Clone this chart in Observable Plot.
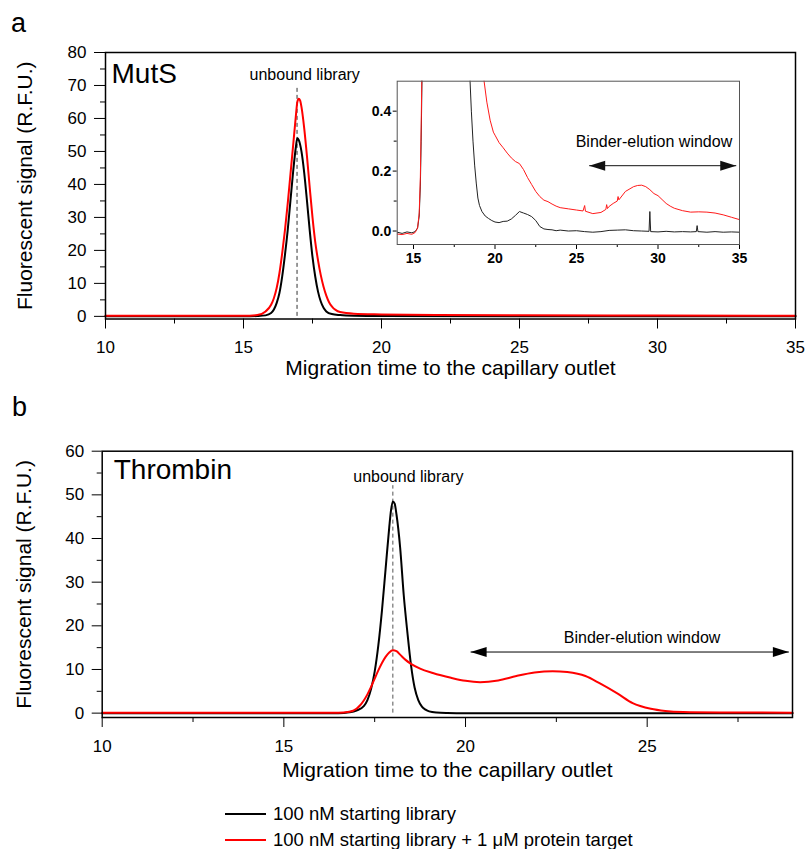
<!DOCTYPE html>
<html><head><meta charset="utf-8">
<script src="https://cdn.jsdelivr.net/npm/d3@7"></script>
<script src="https://cdn.jsdelivr.net/npm/@observablehq/plot@0.6"></script>
<style>
body{margin:0;background:#fff;font-family:"Liberation Sans",Arial,Helvetica,sans-serif;}
#fig{position:relative;width:805px;height:849px;overflow:hidden;background:#fff;}
.letter{font-size:27px;line-height:27px;color:#000;}
.legend{font-size:18.5px;color:#000;}
.legend .row{height:26px;line-height:26px;white-space:nowrap;}
.legend .sw{display:inline-block;width:41px;height:2px;vertical-align:middle;margin-right:7px;position:relative;top:-1px;}
</style></head><body><div id="fig"></div>
<script>
// ---------- DATA ----------
// Panel a (MutS): [migration time, signal]
const mutsLibrary = [[10,0],[15.0,0],[15.5,0.1],[15.8,0.3],[16.0,1.0],[16.2,4],[16.3,7],[16.4,12],[16.5,18.5],[16.6,26],[16.7,35],[16.8,44],[16.9,51.5],[16.95,54],[17.0,53.5],[17.1,50],[17.2,43.5],[17.3,35],[17.4,26],[17.5,18],[17.6,12],[17.7,7.5],[17.8,4.5],[17.9,2.6],[18.0,1.5],[18.2,0.7],[18.5,0.4],[19,0.2],[20,0.1],[25,0.05],[35,0.03]];
const mutsTarget = [[10,0.2],[15.0,0.2],[15.5,0.4],[15.8,1.5],[16.0,3.5],[16.1,5.5],[16.2,8.5],[16.3,13],[16.4,19],[16.5,26],[16.6,34],[16.7,43],[16.8,52],[16.9,61],[16.95,65],[17.0,66],[17.05,65.5],[17.1,63.5],[17.2,57],[17.3,48.5],[17.4,39],[17.5,30],[17.6,22.5],[17.7,17],[17.8,12.5],[17.9,9],[18.0,6.3],[18.1,4.3],[18.2,3.0],[18.5,1.3],[19,0.8],[20,0.6],[22,0.4],[25,0.3],[30,0.25],[35,0.2]];
// Inset of panel a (zoomed baseline)
const insetLibrary = [[14.0,-0.004],[14.3,-0.008],[14.6,-0.003],[14.9,-0.006],[15.1,-0.002],[15.25,0.01],[15.35,0.05],[15.42,0.15],[15.47,0.3],[15.52,0.5],[15.56,0.7],[17.0,1.0],[18.4,0.7],[18.47,0.5],[18.55,0.4],[18.65,0.3],[18.75,0.22],[18.85,0.16],[18.95,0.11],[19.05,0.085],[19.2,0.065],[19.4,0.05],[19.6,0.042],[19.8,0.035],[20.0,0.03],[20.25,0.028],[20.5,0.032],[20.75,0.033],[21.0,0.04],[21.25,0.052],[21.5,0.065],[21.75,0.06],[22.0,0.055],[22.25,0.048],[22.5,0.035],[22.75,0.015],[23.0,0.007],[23.25,0.005],[23.5,0.004],[23.75,0.001],[24.0,0.003],[24.5,0.0],[25.0,0.001],[25.5,-0.002],[26.0,-0.004],[26.5,-0.002],[27.0,0.002],[27.5,0.003],[28.0,0.004],[28.5,0.001],[29.0,0.0],[29.45,-0.001],[29.5,0.065],[29.55,-0.002],[30.0,-0.003],[30.5,-0.001],[31.0,-0.003],[31.5,-0.002],[32.0,-0.003],[32.35,-0.002],[32.4,0.018],[32.45,-0.002],[33.0,-0.004],[33.5,-0.002],[34.0,-0.004],[34.5,-0.003],[35.0,-0.004]];
const insetTarget = [[14.0,-0.01],[14.3,-0.012],[14.6,-0.008],[14.9,-0.011],[15.1,-0.005],[15.25,0.01],[15.35,0.06],[15.42,0.18],[15.47,0.35],[15.52,0.55],[15.56,0.75],[17.0,1.0],[19.2,0.7],[19.33,0.5],[19.5,0.43],[19.7,0.37],[19.9,0.33],[20.0,0.32],[20.25,0.295],[20.5,0.278],[20.75,0.26],[21.0,0.244],[21.25,0.232],[21.5,0.225],[21.75,0.205],[22.0,0.178],[22.25,0.155],[22.5,0.132],[22.75,0.115],[23.0,0.103],[23.25,0.098],[23.5,0.09],[23.75,0.083],[24.0,0.078],[24.5,0.074],[25.0,0.07],[25.4,0.067],[25.5,0.085],[25.55,0.066],[26.0,0.058],[26.5,0.062],[26.8,0.072],[26.85,0.088],[26.9,0.075],[27.0,0.082],[27.25,0.092],[27.5,0.1],[27.55,0.115],[27.6,0.104],[28.0,0.132],[28.5,0.148],[28.75,0.152],[29.0,0.153],[29.25,0.148],[29.5,0.138],[29.75,0.125],[30.0,0.118],[30.25,0.105],[30.5,0.092],[30.75,0.083],[31.0,0.076],[31.5,0.068],[32.0,0.063],[32.5,0.064],[33.0,0.063],[33.5,0.06],[34.0,0.054],[34.5,0.046],[35.0,0.038]];
// Panel b (Thrombin)
const thrombinLibrary = [[10,0],[16.5,0],[16.8,0.2],[17.0,0.6],[17.2,1.6],[17.3,3.0],[17.4,5.5],[17.5,9.5],[17.6,15.5],[17.7,23.5],[17.8,33],[17.9,42.5],[17.95,46.5],[18.0,48.5],[18.05,48],[18.1,45.5],[18.2,38],[18.3,27],[18.4,18.5],[18.5,11],[18.6,5.8],[18.7,3.0],[18.8,1.5],[18.9,0.8],[19.0,0.4],[19.2,0.15],[19.5,0.05],[20,0],[29,0]];
const thrombinTarget = [[10,0.1],[16.5,0.1],[16.8,0.3],[17.0,1.0],[17.1,1.8],[17.2,2.9],[17.3,4.3],[17.4,6],[17.5,7.9],[17.6,9.8],[17.7,11.5],[17.8,12.9],[17.9,13.9],[18.0,14.4],[18.1,14.2],[18.2,13.4],[18.35,12.2],[18.5,11.3],[18.75,10.2],[19.1,9.2],[19.6,8.1],[20.0,7.4],[20.4,7.1],[20.9,7.5],[21.4,8.5],[21.9,9.3],[22.4,9.6],[22.8,9.4],[23.3,8.5],[23.7,6.8],[24.2,4.4],[24.6,2.3],[25.1,1.0],[25.5,0.5],[26.0,0.25],[27,0.15],[29,0.1]];

// Ticks
const aTicksX = [10,15,20,25,30,35], aMinorX = [12.5,17.5,22.5,27.5,32.5];
const aTicksY = [0,10,20,30,40,50,60,70,80], aMinorY = [5,15,25,35,45,55,65,75];
const bTicksX = [10,15,20,25], bMinorX = [12.5,17.5,22.5,27.5];
const bTicksY = [0,10,20,30,40,50,60], bMinorY = [5,15,25,35,45,55];
const insetTicksX = [15,20,25,30,35], insetMinorX = [17.5,22.5,27.5,32.5];
const insetTicksY = [0,0.2,0.4], insetMinorY = [0.1,0.3];

// Annotations (data coordinates)
const aPeak = [{t:16.94, top:70}], aPeakLabel = [{t:15.22, v:73.3, label:"unbound library"}];
const bPeak = [{t:18.0, top:52.1}], bPeakLabel = [{t:16.91, v:54.2, label:"unbound library"}];
const insetWindow = [{t1:25.78, t2:34.8, v:0.218}], insetWindowLabel = [{t:29.75, v:0.299, label:"Binder-elution window"}];
const bWindow = [{t1:20.14, t2:28.9, v:14.0}], bWindowLabel = [{t:24.86, v:17.3, label:"Binder-elution window"}];
const xLabel = "Migration time to the capillary outlet";
const yLabel = "Fluorescent signal (R.F.U.)";
const legendLabels = ["100 nM starting library", "100 nM starting library + 1 \u03bcM protein target"];
const legendColors = ["#000000", "#ff0000"];

// ---------- DRAW ----------
const FONT = '"Liberation Sans", Arial, Helvetica, sans-serif';
const rows = a => a.map(([t, v]) => ({t, v}));
const headRight = {draw(ctx){ ctx.moveTo(0,0); ctx.lineTo(-16,-5); ctx.lineTo(-16,5); ctx.closePath(); }};
const arrowMarks = (win, color) => [
  Plot.link(win, {x1:"t1", x2:"t2", y1:"v", y2:"v", stroke: color, strokeWidth: 1}),
  Plot.dot(win, {x:"t2", y:"v", symbol: headRight, fill: color, stroke: null, r: 5}),
  Plot.dot(win, {x:"t1", y:"v", symbol: headRight, rotate: 180, fill: color, stroke: null, r: 5})
];
const fig = document.getElementById("fig");
function place(el, left, top){ el.style.position="absolute"; el.style.left=left+"px"; el.style.top=top+"px"; fig.appendChild(el); }

// Panel a
const plotA = Plot.plot({
  width: 805, height: 385,
  marginLeft: 105, marginRight: 10, marginTop: 52, marginBottom: 66.5,
  style: {fontFamily: FONT, fontSize: "17px", color: "#000", background: "transparent", overflow: "visible"},
  x: {domain: [10, 35]},
  y: {domain: [-0.8, 80]},
  marks: [
    Plot.axisX(aTicksX, {tickSize: 10, tickPadding: 12, label: null, fontSize: 17}),
    Plot.axisX(aMinorX, {tickSize: 5, tickFormat: () => "", label: null}),
    Plot.axisY(aTicksY, {tickSize: 11, tickPadding: 8, label: null, fontSize: 17}),
    Plot.axisY(aMinorY, {tickSize: 5, tickFormat: () => "", label: null}),
    Plot.ruleX(aPeak, {x: "t", y1: 0, y2: "top", stroke: "#333", strokeDasharray: "4,3", strokeWidth: 1}),
    Plot.line(rows(mutsLibrary), {x: "t", y: "v", stroke: "#000", strokeWidth: 2, curve: "monotone-x"}),
    Plot.line(rows(mutsTarget), {x: "t", y: "v", stroke: "#ff0000", strokeWidth: 2, curve: "monotone-x"}),
    Plot.frame({stroke: "#000", strokeWidth: 1.5}),
    Plot.text(["MutS"], {frameAnchor: "top-left", textAnchor: "start", lineAnchor: "top", dx: 6, dy: 11, fontSize: 28}),
    Plot.text(aPeakLabel, {x: "t", y: "v", text: "label", textAnchor: "start", fontSize: 16}),
    Plot.text([yLabel], {frameAnchor: "left", textAnchor: "middle", lineAnchor: "middle", rotate: -90, dx: -80, fontSize: 21}),
    Plot.text([xLabel], {frameAnchor: "bottom", textAnchor: "middle", lineAnchor: "middle", dy: 49, fontSize: 21})
  ]
});
place(plotA, 0, 0);

// Inset
const plotInset = Plot.plot({
  width: 390, height: 200,
  marginLeft: 36.7, marginRight: 11, marginTop: 10.7, marginBottom: 26,
  style: {fontFamily: FONT, fontSize: "14px", fontWeight: "bold", color: "#000", background: "transparent", overflow: "visible"},
  x: {domain: [14, 35]},
  y: {domain: [-0.045, 0.5]},
  marks: [
    Plot.axisX(insetTicksX, {tickSize: 5, tickPadding: 4, label: null, fontSize: 14}),
    Plot.axisX(insetMinorX, {tickSize: 3, tickFormat: () => "", label: null}),
    Plot.axisY(insetTicksY, {tickSize: 4, tickPadding: 2, tickFormat: d3.format(".1f"), label: null, fontSize: 14}),
    Plot.axisY(insetMinorY, {tickSize: 3, tickFormat: () => "", label: null}),
    Plot.line(rows(insetLibrary), {x: "t", y: "v", stroke: "#222", strokeWidth: 1, clip: true}),
    Plot.line(rows(insetTarget), {x: "t", y: "v", stroke: "#ff1a1a", strokeWidth: 1, clip: true}),
    ...arrowMarks(insetWindow, "#111"),
    Plot.text(insetWindowLabel, {x: "t", y: "v", text: "label", fontSize: 16, fontWeight: "normal"}),
    Plot.frame({stroke: "#555", strokeWidth: 1})
  ]
});
place(plotInset, 360, 70);

// Panel b
const plotB = Plot.plot({
  width: 805, height: 400,
  marginLeft: 101.7, marginRight: 13, marginTop: 70.7, marginBottom: 63,
  style: {fontFamily: FONT, fontSize: "17px", color: "#000", background: "transparent", overflow: "visible"},
  x: {domain: [10, 29]},
  y: {domain: [-1, 60]},
  marks: [
    Plot.axisX(bTicksX, {tickSize: 10, tickPadding: 12, label: null, fontSize: 17}),
    Plot.axisX(bMinorX, {tickSize: 5, tickFormat: () => "", label: null}),
    Plot.axisY(bTicksY, {tickSize: 10, tickPadding: 8, label: null, fontSize: 17}),
    Plot.axisY(bMinorY, {tickSize: 5, tickFormat: () => "", label: null}),
    Plot.ruleX(bPeak, {x: "t", y1: 0, y2: "top", stroke: "#555", strokeDasharray: "4,3", strokeWidth: 1}),
    Plot.line(rows(thrombinLibrary), {x: "t", y: "v", stroke: "#000", strokeWidth: 2, curve: "monotone-x"}),
    Plot.line(rows(thrombinTarget), {x: "t", y: "v", stroke: "#ff0000", strokeWidth: 2, curve: "monotone-x"}),
    ...arrowMarks(bWindow, "#000"),
    Plot.text(bWindowLabel, {x: "t", y: "v", text: "label", fontSize: 16}),
    Plot.frame({stroke: "#000", strokeWidth: 1.5}),
    Plot.text(["Thrombin"], {frameAnchor: "top-left", textAnchor: "start", lineAnchor: "top", dx: 11.5, dy: 7.5, fontSize: 28}),
    Plot.text(bPeakLabel, {x: "t", y: "v", text: "label", textAnchor: "start", fontSize: 16}),
    Plot.text([yLabel], {frameAnchor: "left", textAnchor: "middle", lineAnchor: "middle", rotate: -90, dx: -77.7, fontSize: 21}),
    Plot.text([xLabel], {frameAnchor: "bottom", textAnchor: "middle", lineAnchor: "middle", dy: 53, fontSize: 21})
  ]
});
place(plotB, 0, 380);

// Panel letters
const la = document.createElement("div"); la.className = "letter"; la.textContent = "a"; place(la, 11, 9.5);
const lb = document.createElement("div"); lb.className = "letter"; lb.textContent = "b"; place(lb, 12, 394);

// Legend
const leg = document.createElement("div"); leg.className = "legend";
legendLabels.forEach((lab, i) => {
  const row = document.createElement("div"); row.className = "row";
  const sw = document.createElement("span"); sw.className = "sw"; sw.style.background = legendColors[i];
  row.appendChild(sw); row.appendChild(document.createTextNode(lab));
  leg.appendChild(row);
});
place(leg, 225, 801);
</script></body></html>
